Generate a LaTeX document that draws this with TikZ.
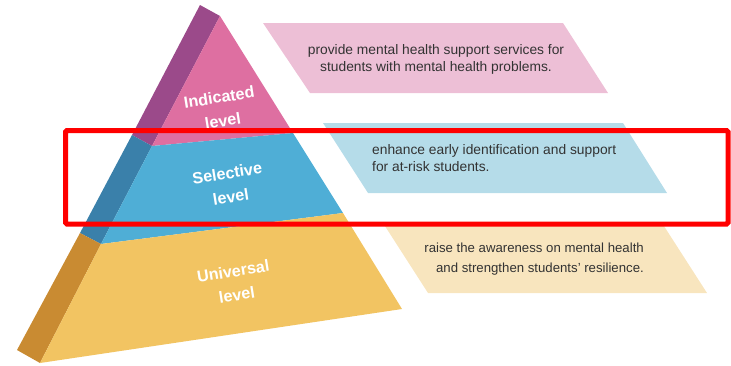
\documentclass[tikz,border=0pt]{standalone}
\usepackage{fontspec}
\setmainfont{Liberation Sans}

\definecolor{pinkfront}{HTML}{DE6FA1}
\definecolor{pinkside}{HTML}{9B4A8A}
\definecolor{bluefront}{HTML}{4FAED6}
\definecolor{blueside}{HTML}{3A80AA}
\definecolor{yellowfront}{HTML}{F2C462}
\definecolor{yellowside}{HTML}{C98B32}
\definecolor{pinkbox}{HTML}{EDBFD6}
\definecolor{bluebox}{HTML}{B5DCE9}
\definecolor{yellowbox}{HTML}{F8E5BE}
\definecolor{notetext}{HTML}{333333}

\begin{document}
\begin{tikzpicture}[x=1pt,y=-1pt,
  lvl/.style={text=white,font=\fontsize{16.2}{24}\selectfont\bfseries,align=center,rotate=9,inner sep=0},
  note/.style={text=notetext,font=\fontsize{13.8}{17}\selectfont,inner sep=0}]
  \useasboundingbox (0,0) rectangle (731,365);

  % side of the pyramid
  \fill[pinkside] (200,5) -- (220,16) -- (152,146) -- (132,135) -- cycle;
  \fill[blueside] (132,135) -- (152,146) -- (101,244) -- (80,233) -- cycle;
  \fill[yellowside] (80,233) -- (101,244) -- (40,363) -- (17,350) -- cycle;

  % front of the pyramid
  \fill[pinkfront] (220,16) -- (293,133) -- (152,146) -- cycle;
  \fill[bluefront] (152,146) -- (293,133) -- (343,213) -- (101,244) -- cycle;
  \fill[yellowfront] (101,244) -- (343,213) -- (402,309) -- (40,363) -- cycle;

  \node[lvl] (indicated) at (221,109) {Indicated\\level};
  \node[lvl] (selective) at (229,185) {Selective\\level};
  \node[lvl] (universal) at (235,283) {Universal\\level};

  % slanted boxes
  \fill[pinkbox] (263,23) -- (563,23) -- (608,93) -- (310,93) -- cycle;
  \fill[bluebox] (323,123) -- (623,123) -- (667,193) -- (368,193) -- cycle;
  \fill[yellowbox] (383,223) -- (662,223) -- (707,293) -- (428,293) -- cycle;

  \node[note,align=center] (provide) at (436,59)
    {provide mental health support services for\\students with mental health problems.};
  \node[note,align=left,anchor=west] (enhance) at (372,158)
    {enhance early identification and support\\for at-risk students.};
  \node[note,align=right,anchor=east,font=\fontsize{13.2}{20}\selectfont] (raise) at (644,259)
    {raise the awareness on mental health\\and strengthen students’ resilience.};

  % highlight
  \draw[red,line width=5pt,rounded corners=1.5pt] (65.5,130.5) rectangle (728,224);
\end{tikzpicture}
\end{document}
